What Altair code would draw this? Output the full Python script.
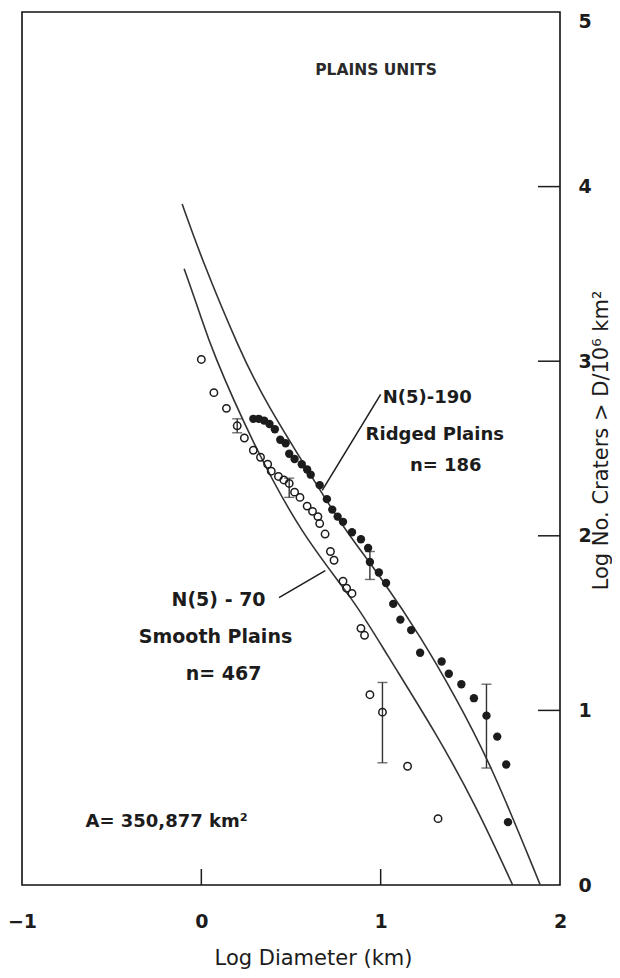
import altair as alt
import pandas as pd

# ---------------- data ----------------
smooth_x = [0.00, 0.07, 0.14, 0.20, 0.24, 0.29, 0.33, 0.37, 0.39, 0.43, 0.46, 0.49, 0.52, 0.55, 0.59,
            0.62, 0.65, 0.66, 0.69, 0.72, 0.74, 0.79, 0.81, 0.84, 0.89, 0.91, 0.94, 1.01, 1.15, 1.32]
smooth_y = [3.01, 2.82, 2.73, 2.63, 2.56, 2.49, 2.45, 2.41, 2.37, 2.34, 2.32, 2.30, 2.25, 2.22, 2.17,
            2.14, 2.11, 2.07, 2.01, 1.91, 1.86, 1.74, 1.70, 1.67, 1.47, 1.43, 1.09, 0.99, 0.68, 0.38]

ridged_x = [0.29, 0.32, 0.35, 0.38, 0.41, 0.44, 0.47, 0.49, 0.52, 0.56, 0.59, 0.61, 0.66, 0.70, 0.73,
            0.76, 0.79, 0.84, 0.89, 0.93, 0.94, 0.99, 1.03, 1.07, 1.11, 1.17, 1.22, 1.34, 1.38, 1.45,
            1.52, 1.59, 1.65, 1.70, 1.71]
ridged_y = [2.67, 2.67, 2.66, 2.64, 2.61, 2.55, 2.53, 2.47, 2.44, 2.41, 2.38, 2.35, 2.29, 2.21, 2.15,
            2.11, 2.08, 2.02, 1.98, 1.93, 1.85, 1.79, 1.73, 1.61, 1.52, 1.46, 1.33, 1.28, 1.21, 1.15,
            1.07, 0.97, 0.85, 0.69, 0.36]

# production-function curves (N(5)=190 upper, N(5)=70 lower)
curve190_x = [-0.107, 0.0, 0.21, 0.354, 0.657, 0.803, 1.011, 1.236, 1.404, 1.612, 1.89]
curve190_y = [3.90, 3.59, 3.07, 2.77, 2.27, 2.03, 1.75, 1.40, 1.10, 0.70, 0.0]
curve70_x = [-0.096, 0.0, 0.056, 0.281, 0.562, 0.854, 1.028, 1.309, 1.534, 1.736]
curve70_y = [3.53, 3.25, 3.07, 2.54, 2.00, 1.63, 1.33, 0.87, 0.45, 0.0]

# error bars
err_x = [0.20, 0.49, 0.94, 1.01, 1.59]
err_lo = [2.59, 2.22, 1.75, 0.70, 0.67]
err_hi = [2.67, 2.33, 1.91, 1.16, 1.15]

# leader lines
lead_x = [1.00, 0.433]
lead_y = [2.81, 1.646]
lead_x2 = [0.674, 0.691]
lead_y2 = [2.26, 1.80]

# annotations
heading_text = ["PLAINS UNITS"]
heading_tx = [0.635]
heading_ty = [4.67]
left_text = ["N(5)-190", "Ridged Plains", "n= 186", "A= 350,877  km\u00b2"]
left_tx = [1.011, 0.916, 1.163, -0.646]
left_ty = [2.79, 2.58, 2.40, 0.36]
center_text = ["N(5) - 70", "Smooth Plains", "n= 467"]
center_tx = [0.096, 0.079, 0.124]
center_ty = [1.63, 1.42, 1.21]

x_ticks = [-1, 0, 1, 2]
y_ticks = [0, 1, 2, 3, 4, 5]
x_inner_ticks = [0, 1]
y_inner_ticks = [1, 2, 3, 4]

# ---------------- chart ----------------
FONT = "DejaVu Sans"
INK = "#1c1c1c"
W, H = 538, 873

xs = alt.Scale(domain=[-1, 2], nice=False, zero=False)
ys = alt.Scale(domain=[0, 5], nice=False, zero=False)

xaxis = alt.Axis(values=x_ticks, tickSize=0, domain=False, grid=False, labelFlush=False,
                 labelOverlap=False, labelFont=FONT, labelFontSize=19, labelFontWeight="bold",
                 labelColor=INK, labelPadding=27,
                 title="Log Diameter (km)", titleFont=FONT, titleFontSize=21,
                 titleFontWeight="normal", titleColor=INK, titleX=291, titleY=79,
                 titleBaseline="alphabetic", titleAlign="center")
yaxis = alt.Axis(values=y_ticks, orient="right", tickSize=0, domain=False, grid=False,
                 labelFlush=False, labelOverlap=False, labelFont=FONT, labelFontSize=19,
                 labelFontWeight="bold", labelColor=INK, labelPadding=18,
                 labelBaseline={"condition": {"test": "datum.value == 5", "value": "top"},
                                "value": "middle"},
                 title="Log No. Craters > D/10\u2076 km\u00b2", titleFont=FONT, titleFontSize=21,
                 titleFontWeight="normal", titleColor=INK, titleAngle=270, titleX=47, titleY=428,
                 titleAlign="center", titleBaseline="alphabetic")


def X(field):
    return alt.X(field, scale=xs, axis=xaxis)


def Y(field):
    return alt.Y(field, scale=ys, axis=yaxis)


curves = pd.DataFrame({
    "x": curve190_x + curve70_x,
    "y": curve190_y + curve70_y,
    "c": ["190"] * len(curve190_x) + ["70"] * len(curve70_x),
})
curve_layer = alt.Chart(curves).mark_line(interpolate="basis", strokeWidth=1.6, color="#333333").encode(
    x=X("x:Q"), y=Y("y:Q"), detail="c:N")

open_df = pd.DataFrame({"x": smooth_x, "y": smooth_y})
open_layer = alt.Chart(open_df).mark_point(shape="circle", filled=False, size=55, strokeWidth=1.5,
                                           color=INK, opacity=1).encode(x=X("x:Q"), y=Y("y:Q"))

fill_df = pd.DataFrame({"x": ridged_x, "y": ridged_y})
fill_layer = alt.Chart(fill_df).mark_circle(size=70, color=INK, opacity=1).encode(x=X("x:Q"), y=Y("y:Q"))

err_df = pd.DataFrame({"x": err_x, "y": err_lo, "hi": err_hi})
err_rule = alt.Chart(err_df).mark_rule(strokeWidth=1.4, color="#333333").encode(
    x=X("x:Q"), y=Y("y:Q"), y2="hi:Q")
cap_lo = alt.Chart(err_df).mark_tick(orient="horizontal", size=10, thickness=1.4, color="#333333").encode(
    x=X("x:Q"), y=Y("y:Q"))
cap_hi = alt.Chart(err_df).mark_tick(orient="horizontal", size=10, thickness=1.4, color="#333333").encode(
    x=X("x:Q"), y=Y("hi:Q"))

lead_df = pd.DataFrame({"x": lead_x, "y": lead_y, "x2": lead_x2, "y2": lead_y2})
lead_layer = alt.Chart(lead_df).mark_rule(strokeWidth=1.5, color=INK).encode(
    x=X("x:Q"), y=Y("y:Q"), x2="x2:Q", y2="y2:Q")

hd_df = pd.DataFrame({"x": heading_tx, "y": heading_ty, "t": heading_text})
hd_layer = alt.Chart(hd_df).mark_text(align="left", baseline="middle", font=FONT, fontSize=15.5,
                                      fontWeight="bold", color="#2a2a2a").encode(
    x=X("x:Q"), y=Y("y:Q"), text="t:N")

lt_df = pd.DataFrame({"x": left_tx, "y": left_ty, "t": left_text})
lt_layer = alt.Chart(lt_df).mark_text(align="left", baseline="middle", font=FONT, fontSize=18,
                                      fontWeight="bold", color=INK).encode(
    x=X("x:Q"), y=Y("y:Q"), text="t:N")

ct_df = pd.DataFrame({"x": center_tx, "y": center_ty, "t": center_text})
ct_layer = alt.Chart(ct_df).mark_text(align="center", baseline="middle", font=FONT, fontSize=19,
                                      fontWeight="bold", color=INK).encode(
    x=X("x:Q"), y=Y("y:Q"), text="t:N")

xt_df = pd.DataFrame({"x": x_inner_ticks})
xt_layer = alt.Chart(xt_df).mark_rule(strokeWidth=1.5, color=INK).encode(
    x=X("x:Q"), y=alt.value(H), y2=alt.value(H - 16))

yt_df = pd.DataFrame({"y": y_inner_ticks})
yt_layer = alt.Chart(yt_df).mark_rule(strokeWidth=1.5, color=INK).encode(
    y=Y("y:Q"), x=alt.value(W - 22), x2=alt.value(W))

chart = alt.layer(
    curve_layer, err_rule, cap_lo, cap_hi, lead_layer, open_layer, fill_layer,
    hd_layer, lt_layer, ct_layer, xt_layer, yt_layer
).properties(
    width=W, height=H,
    padding={"left": 14, "top": 4, "right": 52, "bottom": 85},
    autosize=alt.AutoSizeParams(type="none"),
    background="white",
).configure_view(stroke="#111111", strokeWidth=1.6)

chart.save("out.html", embed_options={"renderer": "svg", "actions": False})
